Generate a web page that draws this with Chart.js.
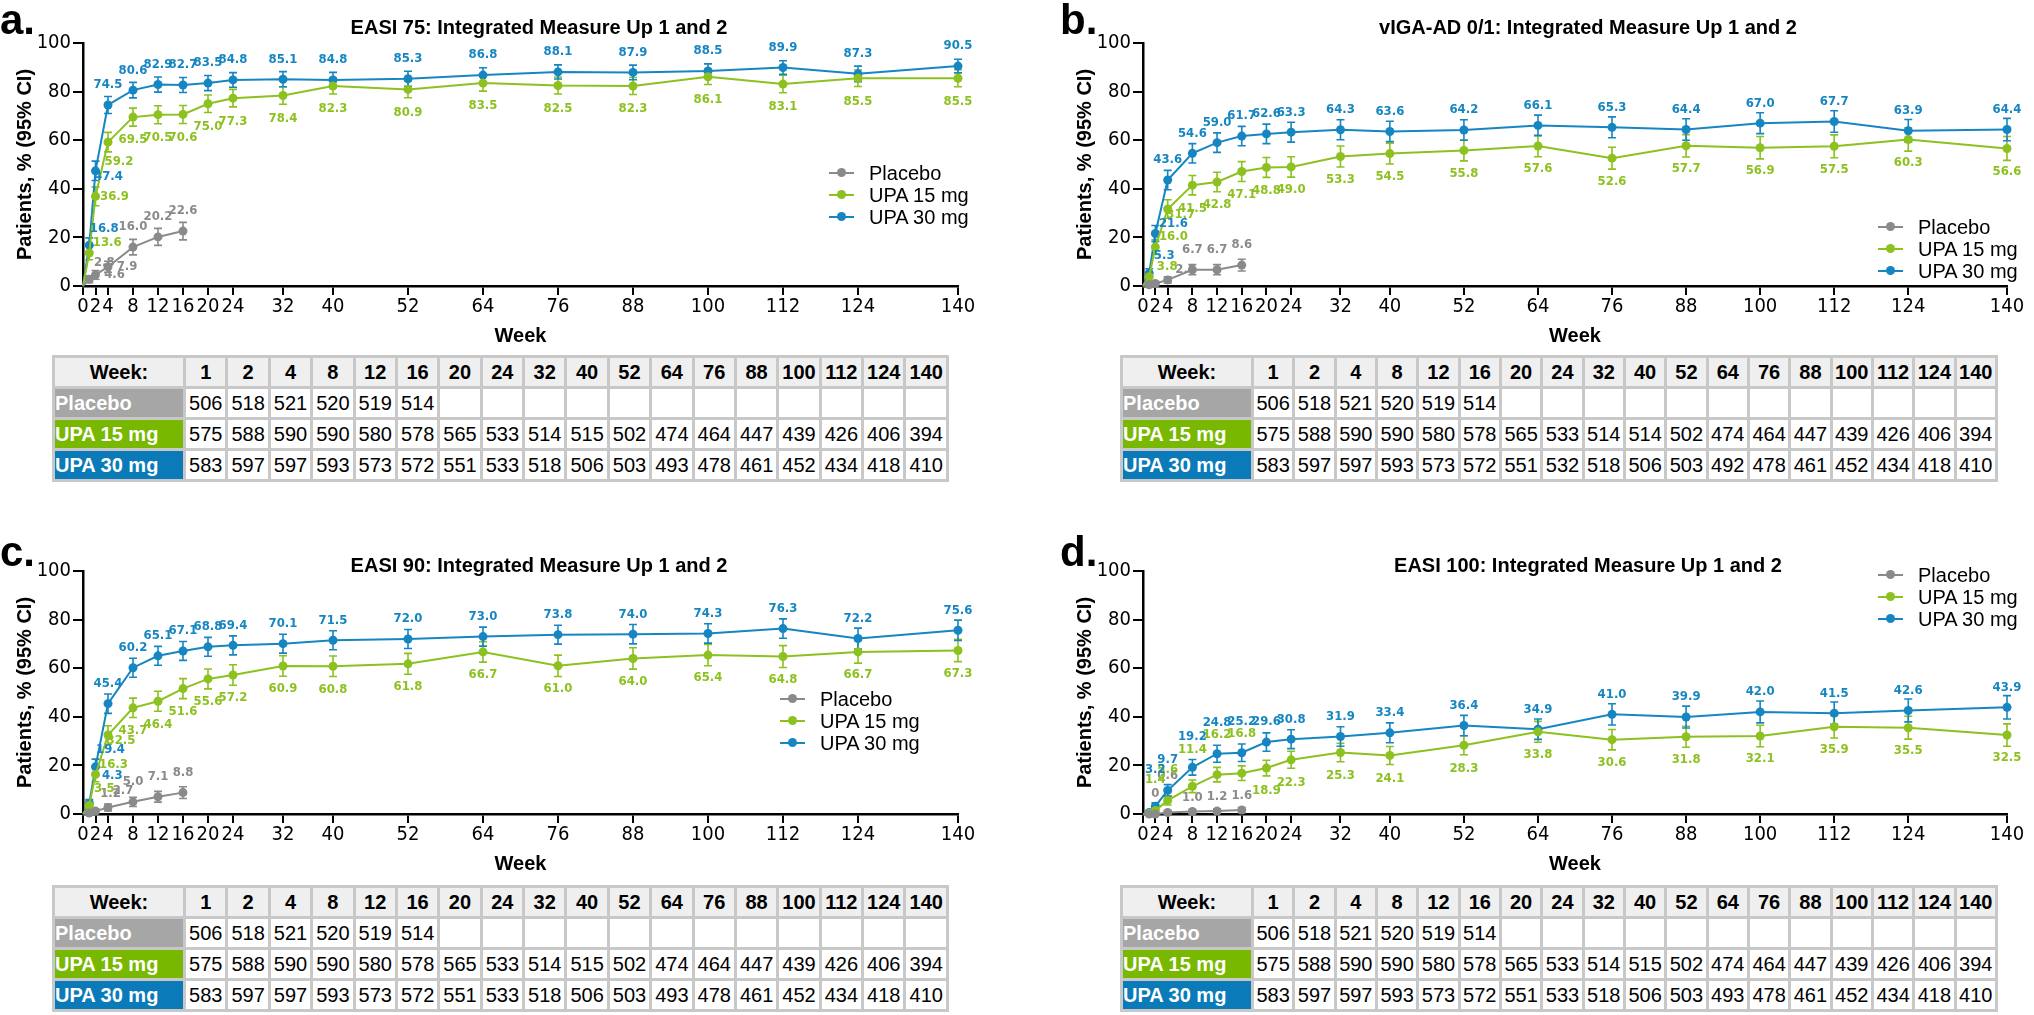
<!DOCTYPE html>
<html>
<head>
<meta charset="utf-8">
<script src="https://cdn.jsdelivr.net/npm/chart.js@4.4.1/dist/chart.umd.min.js"></script>
<style>
  html, body { margin: 0; padding: 0; background: #fff; overflow: hidden; }
  body { width: 2034px; height: 1015px; position: relative; font-family: 'Liberation Sans', Arial, sans-serif; color: #000; }
  .panel { position: absolute; width: 1000px; height: 505px; }
  .panel canvas { position: absolute; left: 0; top: 0; }
  .letter { position: absolute; font-weight: bold; font-size: 42px; line-height: 1; }
  .ctitle { position: absolute; font-weight: bold; font-size: 20px; white-space: nowrap; transform: translate(-50%, -50%); }
  .legend { position: absolute; font-size: 20px; line-height: 22px; }
  .legend div { position: relative; white-space: nowrap; }
  .legend i { position: absolute; left: -40px; top: 10px; width: 25px; height: 2px; }
  .legend i b { position: absolute; left: 8px; top: -4px; width: 9px; height: 9px; border-radius: 50%; }
  table.n { position: absolute; border-collapse: separate; border-spacing: 3px; background: #c8c8c8;
            table-layout: fixed; font-size: 20px; }
  table.n td { height: 28px; padding: 0; text-align: center; background: #fff; overflow: hidden; white-space: nowrap; }
  table.n tr.head td { background: #efefef; font-weight: bold; }
  table.n td.lab { text-align: left; color: #fff; font-weight: bold; }
</style>
</head>
<body>
<script>
// ── Data ────────────────────────────────────────────────────
const weeks      = [0, 1, 2, 4, 8, 12, 16, 20, 24, 32, 40, 52, 64, 76, 88, 100, 112, 124, 140];
const weeksPbo   = [0, 1, 2, 4, 8, 12, 16];
const xTicks     = [0, 2, 4, 8, 12, 16, 20, 24, 32, 40, 52, 64, 76, 88, 100, 112, 124, 140];
const yTicks     = [0, 20, 40, 60, 80, 100];
const tableWeeks = [1, 2, 4, 8, 12, 16, 20, 24, 32, 40, 52, 64, 76, 88, 100, 112, 124, 140];

// EASI 75
const easi75Pbo     = [0, 2.8, 4.6, 7.9, 16.0, 20.2, 22.6];
const easi75Upa15   = [0, 13.6, 36.9, 59.2, 69.5, 70.5, 70.6, 75.0, 77.3, 78.4, 82.3, 80.9, 83.5, 82.5, 82.3, 86.1, 83.1, 85.5, 85.5];
const easi75Upa30   = [0, 16.8, 47.4, 74.5, 80.6, 82.9, 82.7, 83.5, 84.8, 85.1, 84.8, 85.3, 86.8, 88.1, 87.9, 88.5, 89.9, 87.3, 90.5];
const easi75PboCI   = [0, 1.4, 1.8, 2.3, 3.2, 3.5, 3.6];
const easi75Upa15CI = [0, 2.8, 3.9, 4.0, 3.7, 3.7, 3.7, 3.6, 3.6, 3.6, 3.3, 3.4, 3.3, 3.5, 3.5, 3.2, 3.6, 3.4, 3.5];
const easi75Upa30CI = [0, 3.0, 4.0, 3.5, 3.2, 3.1, 3.1, 3.1, 3.0, 3.1, 3.1, 3.1, 3.0, 2.9, 3.0, 2.9, 2.8, 3.2, 2.8];

// vIGA-AD 0/1
const vigaPbo     = [0, 0.5, 1.0, 2.5, 6.7, 6.7, 8.6];
const vigaUpa15   = [0, 3.8, 16.0, 31.7, 41.5, 42.8, 47.1, 48.8, 49.0, 53.3, 54.5, 55.8, 57.6, 52.6, 57.7, 56.9, 57.5, 60.3, 56.6];
const vigaUpa30   = [0, 5.3, 21.6, 43.6, 54.6, 59.0, 61.7, 62.6, 63.3, 64.3, 63.6, 64.2, 66.1, 65.3, 64.4, 67.0, 67.7, 63.9, 64.4];
const vigaPboCI   = [0, 0.6, 0.9, 1.3, 2.1, 2.1, 2.4];
const vigaUpa15CI = [0, 1.6, 3.0, 3.8, 4.0, 4.0, 4.1, 4.1, 4.2, 4.3, 4.3, 4.3, 4.4, 4.5, 4.6, 4.6, 4.7, 4.8, 4.9];
const vigaUpa30CI = [0, 1.8, 3.3, 4.0, 4.0, 4.0, 4.0, 4.0, 4.1, 4.1, 4.2, 4.2, 4.2, 4.3, 4.4, 4.3, 4.4, 4.6, 4.6];

// EASI 90
const easi90Pbo     = [0, 0.4, 1.2, 2.7, 5.0, 7.1, 8.8];
const easi90Upa15   = [0, 3.5, 16.3, 32.5, 43.7, 46.4, 51.6, 55.6, 57.2, 60.9, 60.8, 61.8, 66.7, 61.0, 64.0, 65.4, 64.8, 66.7, 67.3];
const easi90Upa30   = [0, 4.3, 19.4, 45.4, 60.2, 65.1, 67.1, 68.8, 69.4, 70.1, 71.5, 72.0, 73.0, 73.8, 74.0, 74.3, 76.3, 72.2, 75.6];
const easi90PboCI   = [0, 0.6, 0.9, 1.4, 1.9, 2.2, 2.4];
const easi90Upa15CI = [0, 1.5, 3.0, 3.8, 4.0, 4.1, 4.1, 4.1, 4.2, 4.2, 4.2, 4.3, 4.2, 4.4, 4.4, 4.4, 4.5, 4.6, 4.6];
const easi90Upa30CI = [0, 1.6, 3.2, 4.0, 3.9, 3.9, 3.9, 3.9, 3.9, 3.9, 3.9, 3.9, 3.9, 3.9, 4.0, 4.0, 4.0, 4.3, 4.2];

// EASI 100
const easi100Pbo     = [0, 0, 0, 0.6, 1.0, 1.2, 1.6];
const easi100Upa15   = [0, 0.3, 1.4, 5.6, 11.4, 16.2, 16.8, 18.9, 22.3, 25.3, 24.1, 28.3, 33.8, 30.6, 31.8, 32.1, 35.9, 35.5, 32.5];
const easi100Upa30   = [0, 0.6, 3.2, 9.7, 19.2, 24.8, 25.2, 29.6, 30.8, 31.9, 33.4, 36.4, 34.9, 41.0, 39.9, 42.0, 41.5, 42.6, 43.9];
const easi100PboCI   = [0, 0, 0, 0.7, 0.9, 0.9, 1.1];
const easi100Upa15CI = [0, 0.4, 0.9, 1.9, 2.6, 3.0, 3.0, 3.2, 3.5, 3.8, 3.7, 3.9, 4.3, 4.2, 4.3, 4.4, 4.6, 4.7, 4.6];
const easi100Upa30CI = [0, 0.6, 1.4, 2.4, 3.2, 3.5, 3.6, 3.8, 3.9, 4.0, 4.1, 4.2, 4.2, 4.4, 4.5, 4.5, 4.6, 4.7, 4.8];

// Patients at each visit (table rows)
const nPbo       = [506, 518, 521, 520, 519, 514];
const nUpa15     = [575, 588, 590, 590, 580, 578, 565, 533, 514, 515, 502, 474, 464, 447, 439, 426, 406, 394];
const nUpa30     = [583, 597, 597, 593, 573, 572, 551, 533, 518, 506, 503, 493, 478, 461, 452, 434, 418, 410];
const nVigaUpa15 = [575, 588, 590, 590, 580, 578, 565, 533, 514, 514, 502, 474, 464, 447, 439, 426, 406, 394];
const nVigaUpa30 = [583, 597, 597, 593, 573, 572, 551, 532, 518, 506, 503, 492, 478, 461, 452, 434, 418, 410];

// ── Styles ──────────────────────────────────────────────────
const GRAY  = '#8a8a8a';
const GREEN = '#8cc11f';
const BLUE  = '#1686c2';
const SANS   = "'Liberation Sans', Arial, sans-serif";
const NARROW = "'Liberation Sans Narrow', 'Arial Narrow', 'DejaVu Sans Condensed', sans-serif";

// label offsets from the point, in px
const OFF = {
  a: [0, -20], a1: [0, -14], a2: [0, -31], a3: [0, -37], a4: [0, -40],
  b: [0, 23],
  r: [19, 0], ru: [18, -10], ra: [15, -17], rA: [23, -28], rb: [11, 19], rd: [13, 6],
};
const pos = s => s.split(' ');
const tail = (s, n, c) => pos(s).concat(Array(n - pos(s).length).fill(c));

const panels = [
  { letter: 'a.', title: 'EASI 75: Integrated Measure Up 1 and 2', left: 0, top: 0,
    plotR: 958, cw: 1000, titleX: 539, titleY: 27, letterTop: -1,
    legend: [869, 162], table: [52, 355, 897],
    series: [easi75Pbo, easi75Upa15, easi75Upa30], ci: [easi75PboCI, easi75Upa15CI, easi75Upa30CI],
    labels: [pos('n ra r r a a a'), tail('n ru r rb', 19, 'b'), tail('n ra rd', 19, 'a')],
    n: [nPbo, nUpa15, nUpa30] },
  { letter: 'b.', title: 'vIGA-AD 0/1: Integrated Measure Up 1 and 2', left: 1060, top: 0,
    plotR: 947, cw: 974, titleX: 528, titleY: 27, letterTop: -1,
    legend: [858, 216], table: [60, 355, 878],
    series: [vigaPbo, vigaUpa15, vigaUpa30], ci: [vigaPboCI, vigaUpa15CI, vigaUpa30CI],
    labels: [pos('n n n ru a a a'), tail('n ru ru rd', 19, 'b'), tail('n ra ru', 19, 'a')],
    n: [nPbo, nVigaUpa15, nVigaUpa30] },
  { letter: 'c.', title: 'EASI 90: Integrated Measure Up 1 and 2', left: 0, top: 528,
    plotR: 958, cw: 1000, titleX: 539, titleY: 37, letterTop: 3,
    legend: [820, 160], table: [52, 357, 897],
    series: [easi90Pbo, easi90Upa15, easi90Upa30], ci: [easi90PboCI, easi90Upa15CI, easi90Upa30CI],
    labels: [pos('n n ra ra a a a'), tail('n ra ru rd', 19, 'b'), tail('n rA ra', 19, 'a')],
    n: [nPbo, nUpa15, nUpa30] },
  { letter: 'd.', title: 'EASI 100: Integrated Measure Up 1 and 2', left: 1060, top: 528,
    plotR: 947, cw: 974, titleX: 528, titleY: 37, letterTop: 3,
    legend: [858, 36], table: [60, 357, 878],
    series: [easi100Pbo, easi100Upa15, easi100Upa30], ci: [easi100PboCI, easi100Upa15CI, easi100Upa30CI],
    labels: [pos('n n a a3 a1 a1 a1'), tail('n n a2 a2 a3 a4 a4', 19, 'b'), tail('n n a3 a2 a2 a2 a2', 19, 'a')],
    n: [nPbo, nUpa15, nUpa30] },
];

const seriesNames  = ['Placebo', 'UPA 15 mg', 'UPA 30 mg'];
const seriesColors = [GRAY, GREEN, BLUE];
const tableColors  = ['#a6a6a6', '#78b800', '#0a7bb8'];

// ── Plugins ─────────────────────────────────────────────────
const errorBars = {
  id: 'errorBars',
  beforeDatasetsDraw(chart) {
    const { ctx, scales: { x, y } } = chart;
    chart.data.datasets.forEach(ds => {
      ctx.save();
      ctx.strokeStyle = ds.borderColor;
      ctx.lineWidth = 1.6;
      ds.data.forEach((p, i) => {
        const h = ds.ci[i];
        if (!h) return;
        const px  = x.getPixelForValue(p.x);
        const top = y.getPixelForValue(p.y + h);
        const bot = y.getPixelForValue(Math.max(0, p.y - h));
        ctx.beginPath();
        ctx.moveTo(px, top); ctx.lineTo(px, bot);
        ctx.moveTo(px - 4, top); ctx.lineTo(px + 4, top);
        ctx.moveTo(px - 4, bot); ctx.lineTo(px + 4, bot);
        ctx.stroke();
      });
      ctx.restore();
    });
  },
};

const pointLabels = {
  id: 'pointLabels',
  afterDatasetsDraw(chart) {
    const { ctx } = chart;
    ctx.save();
    ctx.font = `bold 13px ${NARROW}`;
    ctx.textAlign = 'center';
    ctx.textBaseline = 'middle';
    chart.data.datasets.forEach((ds, di) => {
      const meta = chart.getDatasetMeta(di);
      ctx.fillStyle = ds.borderColor;
      meta.data.forEach((el, i) => {
        const code = ds.labelPos[i];
        if (!code || code === 'n') return;
        const [dx, dy] = OFF[code];
        const v = ds.data[i].y;
        ctx.fillText(v === 0 ? '0' : v.toFixed(1), el.x + dx, el.y + dy);
      });
    });
    ctx.restore();
  },
};

// ── Build panels ────────────────────────────────────────────
panels.forEach(p => {
  const el = document.createElement('div');
  el.className = 'panel';
  el.style.left = p.left + 'px';
  el.style.top = p.top + 'px';
  document.body.appendChild(el);

  const canvas = document.createElement('canvas');
  canvas.width = p.cw; canvas.height = 350;
  canvas.style.width = p.cw + 'px'; canvas.style.height = '350px';
  el.appendChild(canvas);

  const letter = document.createElement('div');
  letter.className = 'letter';
  letter.style.left = '0px';
  letter.style.top = p.letterTop + 'px';
  letter.textContent = p.letter;
  el.appendChild(letter);

  const title = document.createElement('div');
  title.className = 'ctitle';
  title.style.left = p.titleX + 'px';
  title.style.top = p.titleY + 'px';
  title.textContent = p.title;
  el.appendChild(title);

  const legend = document.createElement('div');
  legend.className = 'legend';
  legend.style.left = p.legend[0] + 'px';
  legend.style.top = p.legend[1] + 'px';
  seriesNames.forEach((name, k) => {
    const row = document.createElement('div');
    row.innerHTML = `<i style="background:${seriesColors[k]}"><b style="background:${seriesColors[k]}"></b></i>${name}`;
    legend.appendChild(row);
  });
  el.appendChild(legend);

  // table of patient numbers
  const [tl, tt, tw] = p.table;
  const table = document.createElement('table');
  table.className = 'n';
  table.style.left = tl + 'px';
  table.style.top = tt + 'px';
  table.style.width = tw + 'px';
  const colW = (tw - 3 * 20 - 128) / 18;
  let html = '<colgroup><col style="width:128px">' + tableWeeks.map(() => `<col style="width:${colW}px">`).join('') + '</colgroup>';
  html += '<tr class="head"><td>Week:</td>' + tableWeeks.map(w => `<td>${w}</td>`).join('') + '</tr>';
  seriesNames.forEach((name, k) => {
    html += `<tr><td class="lab" style="background:${tableColors[k]}">${name}</td>` +
      tableWeeks.map((w, i) => `<td>${p.n[k][i] ?? ''}</td>`).join('') + '</tr>';
  });
  table.innerHTML = html;
  el.appendChild(table);

  const datasets = p.series.map((vals, k) => {
    const wk = k === 0 ? weeksPbo : weeks;
    return {
      label: seriesNames[k],
      data: vals.map((v, i) => ({ x: wk[i], y: v })),
      ci: p.ci[k],
      labelPos: p.labels[k],
      borderColor: seriesColors[k],
      backgroundColor: seriesColors[k],
      borderWidth: 2,
      pointRadius: ctx => ctx.dataIndex === 0 ? 0 : 4.5,
      pointBorderWidth: 0,
      pointBackgroundColor: seriesColors[k],
      tension: 0,
      clip: false,
    };
  });

  new Chart(canvas, {
    type: 'line',
    data: { datasets },
    plugins: [errorBars, pointLabels],
    options: {
      responsive: false,
      animation: false,
      devicePixelRatio: 1,
      layout: { padding: { top: 43, left: 0, right: p.cw - p.plotR, bottom: 2 } },
      plugins: { legend: { display: false }, tooltip: { enabled: false } },
      scales: {
        x: {
          type: 'linear', min: 0, max: 140,
          afterBuildTicks: a => { a.ticks = xTicks.map(v => ({ value: v })); },
          afterFit: s => { s.height = 62; },
          ticks: { autoSkip: false, maxRotation: 0, padding: 0, color: '#000', font: { family: NARROW, size: 20 } },
          grid: { drawOnChartArea: false, drawTicks: true, tickLength: 9, color: '#000', lineWidth: 2 },
          border: { color: '#000', width: 2.5 },
          title: { display: true, text: 'Week', color: '#000', padding: 0, font: { family: SANS, size: 20, weight: 'bold' } },
        },
        y: {
          min: 0, max: 100,
          afterBuildTicks: a => { a.ticks = yTicks.map(v => ({ value: v })); },
          afterFit: s => { s.width = 83; },
          ticks: { padding: 2, color: '#000', font: { family: NARROW, size: 20 } },
          grid: { drawOnChartArea: false, drawTicks: true, tickLength: 10, color: '#000', lineWidth: 2 },
          border: { color: '#000', width: 2.5 },
          title: { display: true, text: 'Patients, % (95% CI)', color: '#000', padding: { top: 13, bottom: 0 },
                   font: { family: SANS, size: 20, weight: 'bold' } },
        },
      },
    },
  });
});
</script>
</body>
</html>
